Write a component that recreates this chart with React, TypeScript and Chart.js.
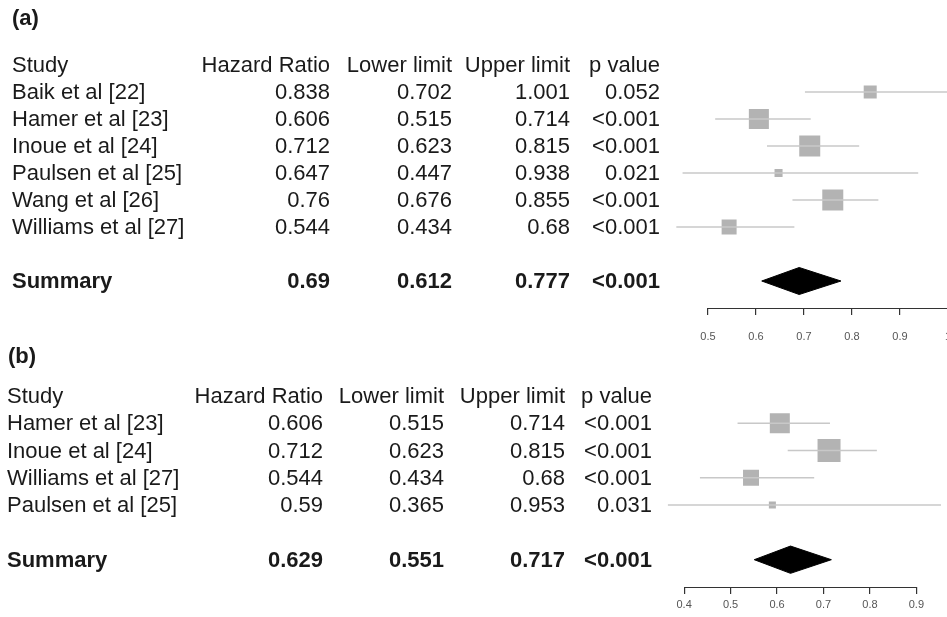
import React, { useEffect, useRef } from 'react';
import Chart from 'chart.js/auto';

// ---------- data: panel (a) ----------
const tagA = '(a)';
const headers = ['Study', 'Hazard Ratio', 'Lower limit', 'Upper limit', 'p value'];
const studiesA = ['Baik et al [22]', 'Hamer et al [23]', 'Inoue et al [24]', 'Paulsen et al [25]', 'Wang et al [26]', 'Williams et al [27]'];
const hrA = [0.838, 0.606, 0.712, 0.647, 0.76, 0.544];
const lowerA = [0.702, 0.515, 0.623, 0.447, 0.676, 0.434];
const upperA = [1.001, 0.714, 0.815, 0.938, 0.855, 0.68];
const pA = ['0.052', '<0.001', '<0.001', '0.021', '<0.001', '<0.001'];
const weightsA = [9.7, 23.0, 25.3, 3.7, 25.3, 12.9];
const summaryA = [0.69, 0.612, 0.777];
const summaryPA = '<0.001';
const ticksA = [0.5, 0.6, 0.7, 0.8, 0.9, 1];

// ---------- data: panel (b) ----------
const tagB = '(b)';
const studiesB = ['Hamer et al [23]', 'Inoue et al [24]', 'Williams et al [27]', 'Paulsen et al [25]'];
const hrB = [0.606, 0.712, 0.544, 0.59];
const lowerB = [0.515, 0.623, 0.434, 0.365];
const upperB = [0.714, 0.815, 0.68, 0.953];
const pB = ['<0.001', '<0.001', '<0.001', '0.031'];
const weightsB = [32.4, 42.9, 20.7, 4.0];
const summaryB = [0.629, 0.551, 0.717];
const summaryPB = '<0.001';
const ticksB = [0.4, 0.5, 0.6, 0.7, 0.8, 0.9];

const FONT = '"Liberation Sans", Arial, Helvetica, sans-serif';

interface Layout {
  canvasH: number;
  plotLeft: number;
  xMin: number;
  xMax: number;
  axisY: number;
  rowPx: number;
  tagX: number;
  tagY: number;
  studyX: number;
  colRight: number[];
  boxMax: number;
  tickPad: number;
  textDy: number;
}

interface PanelData {
  tag: string;
  studies: string[];
  hr: number[];
  lower: number[];
  upper: number[];
  p: string[];
  weights: number[];
  summary: number[];
  summaryP: string;
  ticks: number[];
}

const layoutA: Layout = {
  canvasH: 345, plotLeft: 660, xMin: 0.4, xMax: 0.998, axisY: 308, rowPx: 27,
  tagX: 12, tagY: 19, studyX: 12, colRight: [330, 452, 570, 660], boxMax: 21, tickPad: 15, textDy: 1,
};
const layoutB: Layout = {
  canvasH: 282, plotLeft: 660, xMin: 0.348, xMax: 0.966, axisY: 252, rowPx: 27.3,
  tagX: 8, tagY: 22, studyX: 7, colRight: [323, 444, 565, 652], boxMax: 23, tickPad: 4, textDy: 1,
};

function buildConfig(d: PanelData, L: Layout): any {
  const n = d.studies.length;
  const summaryRow = n + 2;
  const axisRow = n + 3;
  const yMin = -1;
  const padTop = L.axisY - (axisRow - yMin) * L.rowPx;
  const maxW = Math.max(...d.weights);

  const ciSets = d.studies.map((_, i) => ({
    type: 'scatter',
    showLine: true,
    data: [{ x: d.lower[i], y: i + 1 }, { x: d.upper[i], y: i + 1 }],
    borderColor: '#c8c8c8',
    borderWidth: 1.5,
    pointRadius: 0,
    fill: false,
  }));

  const boxes = {
    type: 'scatter',
    data: d.hr.map((v, i) => ({ x: v, y: i + 1 })),
    pointStyle: 'rect',
    pointRadius: d.weights.map((w) => (L.boxMax * Math.sqrt(w / maxW)) / Math.SQRT2),
    backgroundColor: '#b3b3b3',
    borderColor: '#b3b3b3',
    borderWidth: 0,
  };

  const [sHr, sLo, sHi] = d.summary;
  const diamond = {
    type: 'scatter',
    showLine: true,
    data: [
      { x: sLo, y: summaryRow },
      { x: sHr, y: summaryRow - 0.5 },
      { x: sHi, y: summaryRow },
      { x: sHr, y: summaryRow + 0.5 },
      { x: sLo, y: summaryRow },
    ],
    borderColor: '#000',
    backgroundColor: '#000',
    borderWidth: 1,
    pointRadius: 0,
    tension: 0,
    fill: 'shape',
  };

  const tablePlugin = {
    id: 'forestTable',
    afterDraw(chart: any) {
      const { ctx } = chart;
      const y = chart.scales.y;
      const x = chart.scales.x;
      ctx.save();
      // axis line from first to last tick
      ctx.strokeStyle = '#333';
      ctx.lineWidth = 1.2;
      ctx.beginPath();
      const yb = Math.round(chart.chartArea.bottom) + 0.5;
      ctx.moveTo(x.getPixelForValue(d.ticks[0]), yb);
      ctx.lineTo(x.getPixelForValue(d.ticks[d.ticks.length - 1]), yb);
      ctx.stroke();

      ctx.fillStyle = '#1a1a1a';
      ctx.textBaseline = 'middle';
      ctx.font = `bold 22px ${FONT}`;
      ctx.textAlign = 'left';
      ctx.fillText(d.tag, L.tagX, L.tagY);

      const rowY = (r: number) => y.getPixelForValue(r) + L.textDy;
      const drawRow = (r: number, cells: string[], bold: boolean) => {
        ctx.font = `${bold ? 'bold ' : ''}22px ${FONT}`;
        ctx.textAlign = 'left';
        ctx.fillText(cells[0], L.studyX, rowY(r));
        ctx.textAlign = 'right';
        for (let c = 1; c < cells.length; c++) {
          ctx.fillText(cells[c], L.colRight[c - 1], rowY(r));
        }
      };
      drawRow(0, headers, false);
      d.studies.forEach((s, i) => {
        drawRow(i + 1, [s, String(d.hr[i]), String(d.lower[i]), String(d.upper[i]), d.p[i]], false);
      });
      drawRow(summaryRow, ['Summary', String(sHr), String(sLo), String(sHi), d.summaryP], true);
      ctx.restore();
    },
  };

  return {
    type: 'scatter',
    data: { datasets: [...ciSets, boxes, diamond] },
    plugins: [tablePlugin],
    options: {
      responsive: false,
      maintainAspectRatio: false,
      animation: false,
      events: [],
      layout: { autoPadding: false, padding: { left: L.plotLeft, right: 0, top: padTop, bottom: 0 } },
      plugins: { legend: { display: false }, tooltip: { enabled: false }, title: { display: false } },
      scales: {
        x: {
          type: 'linear',
          position: 'bottom',
          min: L.xMin,
          max: L.xMax,
          afterBuildTicks: (s: any) => {
            s.ticks = d.ticks.map((v) => ({ value: v }));
          },
          afterFit: (s: any) => {
            s.height = L.canvasH - L.axisY;
            s.paddingLeft = 0;
            s.paddingRight = 0;
          },
          grid: { display: true, drawOnChartArea: false, drawTicks: true, tickLength: 7, color: '#333', lineWidth: 1.2 },
          border: { display: false },
          ticks: {
            autoSkip: false,
            maxRotation: 0,
            minRotation: 0,
            padding: L.tickPad,
            color: '#555',
            font: { family: FONT, size: 11 },
            callback: (v: number) => String(Math.round(v * 10) / 10),
          },
        },
        y: { type: 'linear', reverse: true, min: yMin, max: axisRow, display: false },
      },
    },
  };
}

function ForestPanel({ d, L, top }: { d: PanelData; L: Layout; top: number }) {
  const ref = useRef<HTMLCanvasElement | null>(null);
  useEffect(() => {
    if (!ref.current) return;
    const chart = new Chart(ref.current, buildConfig(d, L));
    return () => chart.destroy();
  }, [d, L]);
  return (
    <canvas
      ref={ref}
      width={947}
      height={L.canvasH}
      style={{ position: 'absolute', left: 0, top, width: 947, height: L.canvasH }}
    />
  );
}

const panelA: PanelData = {
  tag: tagA, studies: studiesA, hr: hrA, lower: lowerA, upper: upperA, p: pA,
  weights: weightsA, summary: summaryA, summaryP: summaryPA, ticks: ticksA,
};
const panelB: PanelData = {
  tag: tagB, studies: studiesB, hr: hrB, lower: lowerB, upper: upperB, p: pB,
  weights: weightsB, summary: summaryB, summaryP: summaryPB, ticks: ticksB,
};

export default function App() {
  return (
    <div style={{ position: 'absolute', left: 0, top: 0, width: 947, height: 617, background: '#fff', overflow: 'hidden' }}>
      <ForestPanel d={panelA} L={layoutA} top={0} />
      <ForestPanel d={panelB} L={layoutB} top={335} />
    </div>
  );
}
